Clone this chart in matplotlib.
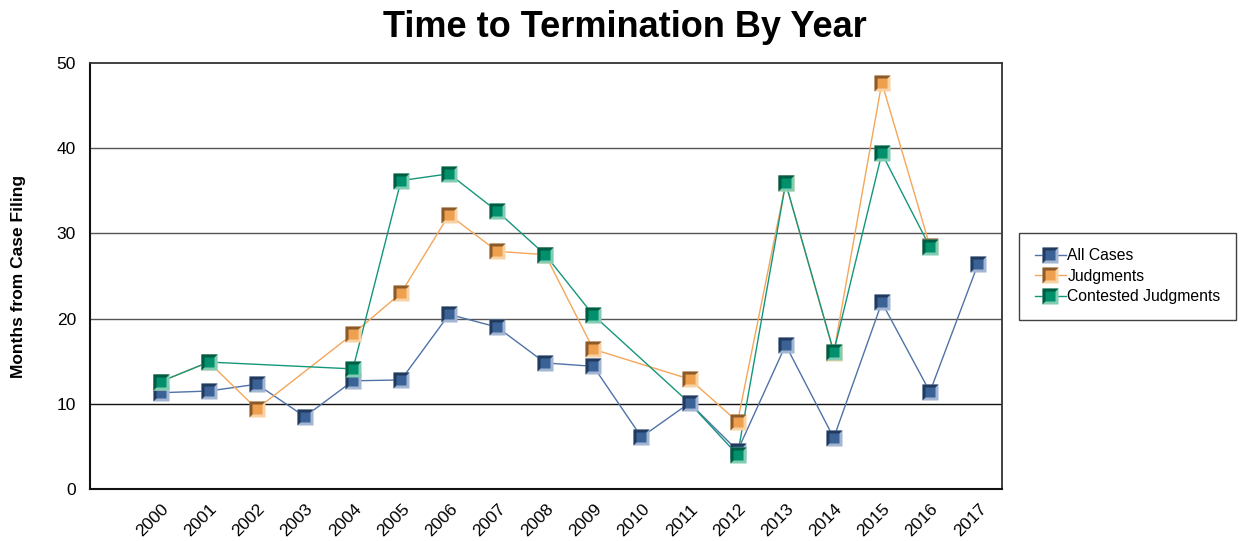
import numpy as np
import matplotlib
matplotlib.use("Agg")
from matplotlib import pyplot as plt
from matplotlib.path import Path
from matplotlib.legend_handler import HandlerTuple

plt.rcParams['font.family'] = ['Liberation Sans', 'DejaVu Sans']

years = [str(y) for y in range(2000, 2018)]
nan = np.nan
all_cases = [11.3, 11.5, 12.3, 8.5, 12.7, 12.8, 20.5, 19.0, 14.8, 14.4,
             6.1, 10.1, 4.5, 16.9, 6.0, 21.9, 11.4, 26.4]
judgments = [12.6, 14.9, 9.4, nan, 18.2, 23.0, 32.2, 27.9, 27.5, 16.4,
             nan, 12.9, 7.9, 35.9, 16.0, 47.7, 28.5, nan]
contested = [12.6, 14.9, nan, nan, 14.1, 36.2, 37.0, 32.6, 27.5, 20.4,
             nan, 10.1, 4.0, 35.9, 16.1, 39.4, 28.4, nan]
# contested 2011 point sits under the All Cases marker in the original
contested_hidden = ['2011']

series = [
    ('All Cases', all_cases, [], '#4f72a8', ('#223a5e', '#3b6296', '#a2b5d2')),
    ('Judgments', judgments, [], '#f4a65a', ('#8a5a2a', '#eea04e', '#f9d2a4')),
    ('Contested Judgments', contested, contested_hidden, '#14967a', ('#005c43', '#00906c', '#80cdb2')),
]

tri = Path([(-1, -1), (-1, 1), (1, 1), (-1, -1)],
           [Path.MOVETO, Path.LINETO, Path.LINETO, Path.CLOSEPOLY])
ms = 12

fig = plt.figure(figsize=(12.44, 5.41), dpi=100)
ax = fig.add_axes([0.0723, 0.0961, 0.7332, 0.7874])

x_all = np.arange(len(years))
handles = []
for name, vals, hidden, lc, (dark, mid, light) in series:
    v = np.array(vals, dtype=float)
    ok = ~np.isnan(v)
    xs, ys = x_all[ok], v[ok]
    ln, = ax.plot(xs, ys, color=lc, lw=1.0, zorder=3)
    mk_ok = ok & np.array([y not in hidden for y in years])
    xm, ym = x_all[mk_ok], v[mk_ok]
    m1, = ax.plot(xm, ym, ls='none', marker='s', ms=ms, mfc=light, mec='none', zorder=4)
    m2, = ax.plot(xm, ym, ls='none', marker=tri, ms=ms, mfc=dark, mec='none', zorder=4)
    m3, = ax.plot(xm, ym, ls='none', marker='s', ms=ms * 0.55, mfc=mid, mec='none', zorder=4)
    handles.append((ln, m1, m2, m3))

ax.set_xlim(-1.47, 17.5)
ax.set_ylim(0, 50)
ax.set_yticks([0, 10, 20, 30, 40, 50])
# labels sit a little right of the points, as in the original
ax.set_xticks(x_all + 0.23)
ax.set_xticklabels(years, rotation=45, ha='right', va='top', fontsize=12.5)
ax.tick_params(axis='x', length=0, pad=9)
ax.tick_params(axis='y', length=0, pad=10, labelsize=12.5)

for yv in [10, 20, 30, 40]:
    ax.axhline(yv, color='#111111' if yv == 10 else '#555555', lw=1.0, zorder=1)
for s in ['left', 'bottom']:
    ax.spines[s].set_linewidth(1.5)
    ax.spines[s].set_color('#111111')
for s in ['top', 'right']:
    ax.spines[s].set_linewidth(1.3)
    ax.spines[s].set_color('#333333')

ax.set_ylabel('Months from Case Filing', fontsize=12.5, fontweight='bold', labelpad=22)
fig.suptitle('Time to Termination By Year', fontsize=26, fontweight='bold', x=0.502, y=0.982)

leg = fig.legend(handles, [s[0] for s in series], loc='center left',
                 bbox_to_anchor=(0.819, 0.489), bbox_transform=fig.transFigure,
                 handler_map={tuple: HandlerTuple(ndivide=1)}, fontsize=11.3,
                 frameon=True, fancybox=False, edgecolor='#111111', handlelength=2.0,
                 handletextpad=0.1, borderpad=1.0, labelspacing=0.35, borderaxespad=0)
leg.get_frame().set_linewidth(1.0)

fig.savefig('out.png', dpi=100)
